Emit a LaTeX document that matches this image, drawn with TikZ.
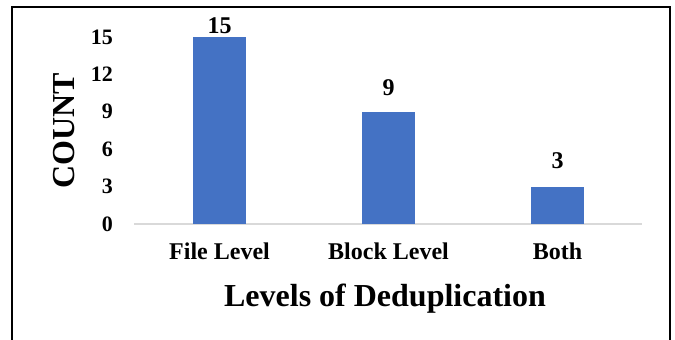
\documentclass[tikz,border=0pt]{standalone}
\usepackage{fontspec}
\setmainfont{Liberation Serif}
\definecolor{barblue}{HTML}{4472C4}
\definecolor{axisgray}{HTML}{D9D9D9}
\begin{document}
\begin{tikzpicture}[x=1pt,y=-1pt,
  bar/.style={fill=barblue,draw=none},
  ticklab/.style={anchor=east,font=\fontsize{22}{22}\selectfont\bfseries,inner sep=0pt},
  datalab/.style={anchor=base,font=\fontsize{24}{24}\selectfont\bfseries,inner sep=0pt},
  catlab/.style={anchor=base,font=\fontsize{24}{24}\selectfont\bfseries,inner sep=0pt},
  framestyle/.style={draw=black,line width=1.5pt}]
\useasboundingbox (0,0) rectangle (675,340);
\fill[white] (0,0) rectangle (675,340);
% frame
\draw[framestyle] (12,340) -- (12,7) -- (670,7);
\draw[draw=black,line width=2.5pt] (670,6.3) -- (670,340);
% axis baseline
\coordinate (axL) at (134,224);
\coordinate (axR) at (642,224);
\draw[axisgray,line width=1.2pt] (axL) -- (axR);
% bars
\path[bar] (193,224) rectangle (246,37.0);
\path[bar] (362,224) rectangle (415,111.8);
\path[bar] (531,224) rectangle (584,186.6);
% data labels
\node[datalab] (d15) at (219.5,33) {15};
\node[datalab] (d9) at (388.5,95) {9};
\node[datalab] (d3) at (557.5,168) {3};
% tick labels
\node[ticklab] (t0) at (113,224) {0};
\node[ticklab] (t3) at (113,186.6) {3};
\node[ticklab] (t6) at (113,149.2) {6};
\node[ticklab] (t9) at (113,111.8) {9};
\node[ticklab] (t12) at (113,74.4) {12};
\node[ticklab] (t15) at (113,37) {15};
% category labels
\node[catlab] (c1) at (219.5,259) {File Level};
\node[catlab] (c2) at (388.5,259) {Block Level};
\node[catlab] (c3) at (557.5,259) {Both};
% axis titles
\node[rotate=90,font=\fontsize{32}{32}\selectfont\bfseries,inner sep=0pt] (ytitle) at (64,131) {COUNT};
\node[anchor=base,font=\fontsize{32}{32}\selectfont\bfseries,inner sep=0pt] (xtitle) at (385,306) {Levels of Deduplication};
\end{tikzpicture}
\end{document}
